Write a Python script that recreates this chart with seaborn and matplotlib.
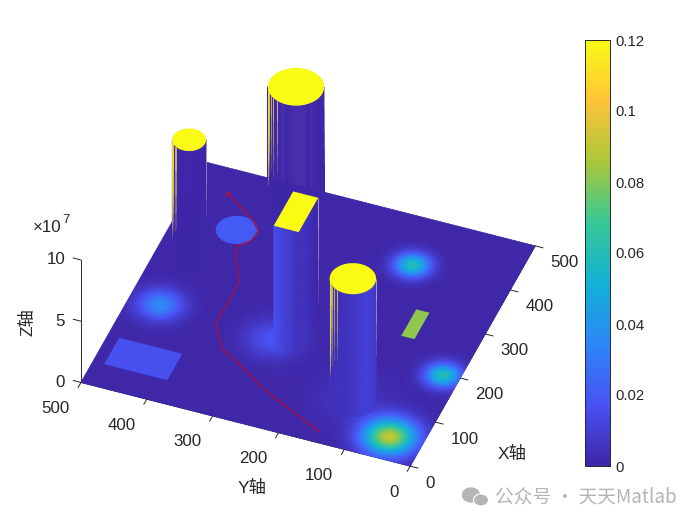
import numpy as np
import matplotlib
matplotlib.use('Agg')
import matplotlib.pyplot as plt
import seaborn as sns
from matplotlib.cm import ScalarMappable
from matplotlib.colors import Normalize
from matplotlib.patches import Ellipse
from mpl_toolkits.mplot3d import proj3d
from mpl_toolkits.mplot3d.art3d import Poly3DCollection

# soft threat peaks on the floor
peak_x = [45, 194, 397, 191, 180, 100]
peak_y = [47, 22, 146, 451, 275, 125]
peak_val = [0.09, 0.06, 0.06, 0.035, 0.018, 0.006]
peak_sigma = [27, 18, 18, 23, 28, 38]

# cylinders, far to near
cyl_x = [452, 293, 100]
cyl_y = [345, 447, 125]
cyl_r = [40, 24, 33]
cyl_top = 1e8

# block
block_x = [165, 243]
block_y = [232, 270]

# flat patches on the floor
disc_x, disc_y, disc_r, disc_val = 381, 408, 30, 0.02
blue_x, blue_y, blue_val = [48, 108], [387, 483], 0.016
green_x, green_y, green_val = [254, 314], [90, 110], 0.082

# flight path
path_x = [448, 412, 390, 366, 349, 319, 281, 183, 137, 113, 79, 23]
path_y = [447, 398, 378, 381, 396, 386, 366, 365, 337, 300, 253, 148]

xy_ticks = [0, 100, 200, 300, 400, 500]
z_ticks = [0, 5e7, 1e8]
z_labels = ['0', '5', '10']
cbar_ticks = [0, 0.02, 0.04, 0.06, 0.08, 0.1, 0.12]
cbar_labels = ['0', '0.02', '0.04', '0.06', '0.08', '0.1', '0.12']

# streaks on the walls: angle in degrees, share of the height
streak_angle = [[111, 113, 115, 118, 121, 125, 130, 137, 146, 158],
                [111, 114, 117, 121, 126, 133, 142, 152],
                [111, 113, 115, 118, 121, 125, 130, 137, 146, 156]]
streak_len = [[0.8, 0.74, 0.78, 0.7, 0.72, 0.62, 0.68, 0.6, 0.66, 0.58],
              [0.8, 0.72, 0.76, 0.66, 0.72, 0.62, 0.7, 0.66],
              [0.8, 0.72, 0.76, 0.7, 0.66, 0.72, 0.6, 0.66, 0.6, 0.58]]

sns.set_theme(style='white')
plt.rcParams['font.family'] = ['Liberation Sans', 'Noto Sans CJK SC']
text_col = '#262626'

parula = sns.blend_palette(['#3e26a8', '#4852f4', '#2d87f7', '#12b1d6', '#37c897',
                            '#abc739', '#fec338', '#f9fb15'], n_colors=256, as_cmap=True)
norm = Normalize(0, 0.12)


def field(x, y):
    c = np.zeros_like(np.asarray(x, dtype=float))
    for px, py, v, s in zip(peak_x, peak_y, peak_val, peak_sigma):
        c = c + v * np.exp(-((x - px) ** 2 + (y - py) ** 2) / (2 * s ** 2))
    return c


fig = plt.figure(figsize=(7, 5.25), dpi=100)
ax = fig.add_axes([38.5 / 700, 2.5 / 525, 525 / 700, 1], projection='3d', computed_zorder=False)
ax.view_init(elev=42, azim=-159.2)
ax.set_proj_type('ortho')
ax.set_box_aspect((1, 1, 0.468), zoom=0.97)

# floor
gx = np.arange(0, 501, 4.0)
X, Y = np.meshgrid(gx, gx)
ax.plot_surface(X, Y, np.zeros_like(X), facecolors=parula(norm(field(X, Y))), shade=False,
                rstride=1, cstride=1, linewidth=0.5, zorder=1)


def flat_poly(vx, vy, val, z=0):
    poly = Poly3DCollection([list(zip(vx, vy, np.full(len(vx), z)))], facecolors=[parula(norm(val))],
                            edgecolors='none', zorder=2)
    ax.add_collection3d(poly)


flat_poly([blue_x[0], blue_x[1], blue_x[1], blue_x[0]], [blue_y[0], blue_y[0], blue_y[1], blue_y[1]], blue_val)
flat_poly([green_x[0], green_x[1], green_x[1], green_x[0]], [green_y[0], green_y[0], green_y[1], green_y[1]], green_val)
t = np.radians(np.arange(0, 360, 4))
flat_poly(disc_x + disc_r * np.cos(t), disc_y + disc_r * np.sin(t), disc_val)

# path
ax.plot(path_x, path_y, np.zeros(len(path_x)), color='#9c1450', lw=1.3, alpha=0.9, zorder=3)
ax.plot(path_x[:1], path_y[:1], [0], marker='x', ms=5, mew=1.0, color='#9c1450', zorder=3)


def wall(wx, wy, zo):
    WX = np.vstack([wx, wx])
    WY = np.vstack([wy, wy])
    WZ = np.vstack([np.zeros_like(wx), np.full_like(wx, cyl_top)])
    cols = parula(norm(field(WX, WY)))
    ax.plot_surface(WX, WY, WZ, facecolors=cols, shade=False, rstride=1, cstride=1, linewidth=0.4, zorder=zo)


def streak(x, y, share, col, lw, zo):
    # pieces that fade out on the way down
    tops = [1.0, 1 - share * 0.3, 1 - share * 0.6, 1 - share * 0.8]
    ends = [1 - share * 0.3, 1 - share * 0.6, 1 - share * 0.8, 1 - share]
    for a, b, al in zip(tops, ends, [0.8, 0.6, 0.4, 0.2]):
        ax.plot([x, x], [y, y], [a * cyl_top, b * cyl_top], color=col, lw=lw, alpha=al, zorder=zo,
                solid_capstyle='butt')


for i, (cx, cy, r) in enumerate(zip(cyl_x, cyl_y, cyl_r)):
    zo = 4 + 2 * (i == 2)
    th = np.radians(np.arange(110, 292, 2.0))
    wall(cx + r * np.cos(th), cy + r * np.sin(th), zo)
    for ang, ln in zip(streak_angle[i], streak_len[i]):
        a = np.radians(ang)
        streak(cx + r * np.cos(a), cy + r * np.sin(a), ln, '#e6d84a', 0.7, zo)
    a = np.radians(291)
    streak(cx + r * np.cos(a), cy + r * np.sin(a), 0.62, '#c4bcc8', 0.7, zo)
    th = np.radians(np.arange(0, 360, 3))
    lid = Poly3DCollection([list(zip(cx + r * np.cos(th), cy + r * np.sin(th), np.full(len(th), cyl_top)))],
                           facecolors=[parula(norm(0.12))], edgecolors='none', zorder=zo)
    ax.add_collection3d(lid)

# block, visible faces only
ex = np.linspace(block_x[0], block_x[1], 20)
ey = np.linspace(block_y[0], block_y[1], 20)
wall(np.full_like(ey, block_x[0]), ey, 5)
wall(ex, np.full_like(ex, block_y[0]), 5)
streak(block_x[1], block_y[0], 0.85, '#c4bcc8', 0.7, 5)
lid = Poly3DCollection([[(block_x[0], block_y[0], cyl_top), (block_x[1], block_y[0], cyl_top),
                         (block_x[1], block_y[1], cyl_top), (block_x[0], block_y[1], cyl_top)]],
                       facecolors=[parula(norm(0.12))], edgecolors='none', zorder=5)
ax.add_collection3d(lid)

ax.set_xlim(0, 500)
ax.set_ylim(0, 500)
ax.set_zlim(0, 1e8)
ax.set_xticks([])
ax.set_yticks([])
ax.set_zticks([])
ax.grid(False)
for axis in [ax.xaxis, ax.yaxis, ax.zaxis]:
    axis.set_pane_color((1, 1, 1, 0))
    axis.pane.set_edgecolor((1, 1, 1, 0))
    axis.line.set_color('#262626')
    axis.line.set_linewidth(0.7)

ax.apply_aspect()


def tick_label(x, y, z, s, ha):
    # data position to figure position, so the label is plain figure text
    px, py, _ = proj3d.proj_transform(x, y, z, ax.get_proj())
    fx, fy = fig.transFigure.inverted().transform(ax.transData.transform((px, py)))
    fig.text(fx, fy, s, fontsize=12.2, color=text_col, ha=ha, va='center')


# ticks stick out along the other floor axis like the matlab ones
tick_kw = dict(color='#262626', lw=0.7, zorder=7)
for v in xy_ticks:
    ax.plot([v, v], [0, -12], [0, 0], **tick_kw)
    ax.plot([0, -12], [v, v], [0, 0], **tick_kw)
    tick_label(v - 26, -33, 0, str(v), 'left')
    tick_label(-57, v - 5, 0, str(v), 'right')
for v, lab in zip(z_ticks, z_labels):
    ax.plot([0, 0], [500, 512], [v, v], **tick_kw)
    tick_label(-8, 521, v, lab, 'right')

fig.text(498 / 700, 1 - 454 / 525, 'X轴', fontsize=12.5, color=text_col, va='center')
fig.text(238 / 700, 1 - 488 / 525, 'Y轴', fontsize=12.5, color=text_col, va='center')
fig.text(27 / 700, 1 - 322 / 525, 'Z轴', fontsize=12.5, color=text_col, va='center', ha='center', rotation=90)
fig.text(33 / 700, 1 - 228 / 525, '×10', fontsize=12.2, color=text_col, va='center')
fig.text(62 / 700, 1 - 220 / 525, '7', fontsize=9.5, color=text_col, va='center')

# colorbar
cax = fig.add_axes([585 / 700, 1 - 466 / 525, 25 / 700, 426 / 525])
cb = fig.colorbar(ScalarMappable(norm=norm, cmap=parula), cax=cax)
cb.set_ticks(cbar_ticks)
cb.set_ticklabels(cbar_labels)
cb.ax.tick_params(direction='in', length=3, width=0.6, labelsize=10.7, labelcolor=text_col, color='#262626', pad=4)
cb.outline.set_edgecolor('#262626')
cb.outline.set_linewidth(0.7)

# watermark
fig.add_artist(Ellipse((471 / 700, 1 - 495 / 525), 17 / 700, 14 / 525, transform=fig.transFigure, color='#b5b5b5'))
fig.add_artist(Ellipse((481 / 700, 1 - 500 / 525), 15 / 700, 12 / 525, transform=fig.transFigure,
                       facecolor='#b5b5b5', edgecolor='white', lw=0.8))
fig.text(495 / 700, 1 - 497 / 525, '公众号 · 天天Matlab', fontsize=13.5, color='#b4b4b4', va='center',
         family=['Noto Sans CJK SC', 'DejaVu Sans'])

fig.savefig('out.png', dpi=100)
